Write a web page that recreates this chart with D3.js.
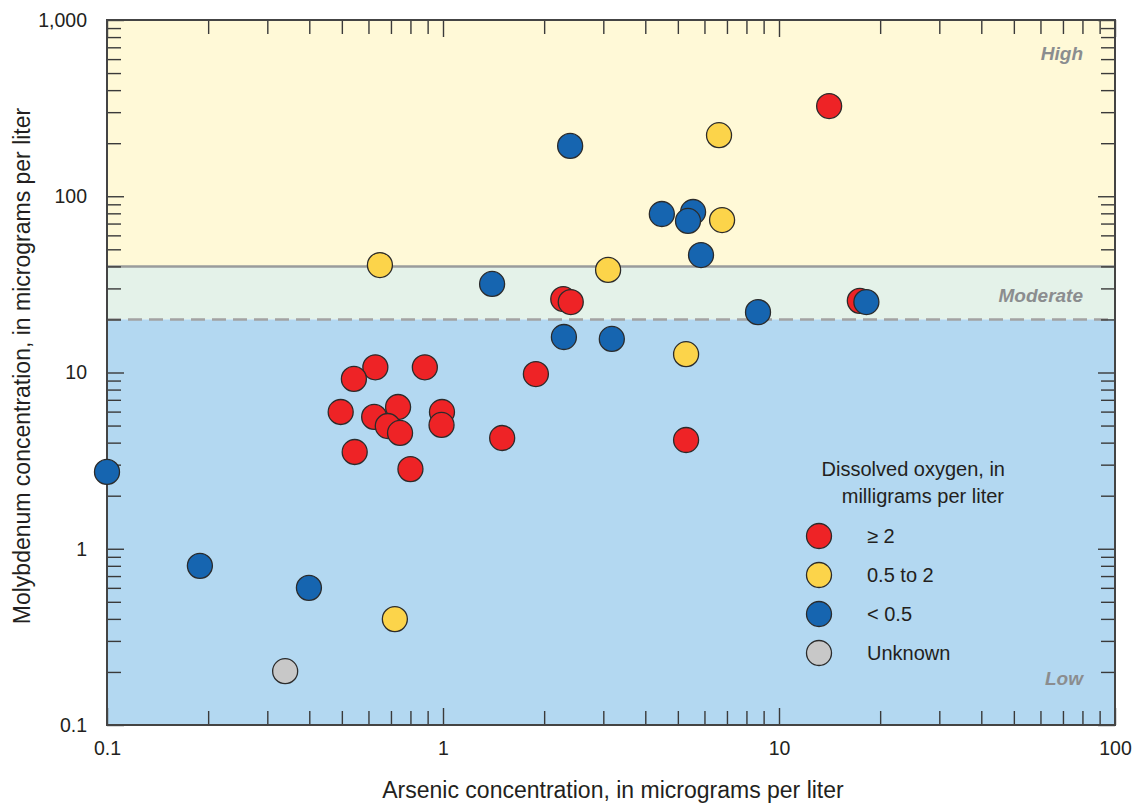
<!DOCTYPE html>
<html>
<head>
<meta charset="utf-8">
<script src="https://cdn.jsdelivr.net/npm/d3@7"></script>
<style>
  html, body { margin: 0; padding: 0; background: #fff; }
  svg { display: block; }
  text { font-family: "Liberation Sans Narrow", "Arial Narrow", "Liberation Sans", sans-serif; fill: #231f20; }
</style>
</head>
<body>
<svg id="chart" width="1138" height="805"></svg>
<script>
// Arsenic (x) and molybdenum (y) concentrations, micrograms per liter
const oxicAs   = [14.1, 17.4, 2.28, 2.40, 1.89, 1.50, 5.29, 0.629, 0.543, 0.883, 0.496, 0.624, 0.735, 0.685, 0.745, 0.993, 0.99, 0.546, 0.80];
const oxicMo   = [325, 25.5, 26.1, 25.1, 9.8, 4.25, 4.14, 10.7, 9.2, 10.7, 5.97, 5.6, 6.37, 4.97, 4.54, 5.97, 5.04, 3.54, 2.83];
const mixedAs  = [6.63, 6.77, 3.10, 0.649, 5.29, 0.719];
const mixedMo  = [222, 73.3, 38.2, 40.7, 12.7, 0.399];
const anoxicAs = [2.39, 4.48, 5.55, 5.36, 5.86, 1.40, 8.66, 18.2, 2.29, 3.18, 0.1, 0.189, 0.399];
const anoxicMo = [193, 79.3, 81.4, 72.4, 46.4, 31.8, 22.0, 25.1, 15.9, 15.5, 2.73, 0.80, 0.60];
const unknownAs = [0.339];
const unknownMo = [0.202];

// Dissolved-oxygen groups
const groupLabels = ["\u2265 2", "0.5 to 2", "< 0.5", "Unknown"];
const groupColors = ["#ee2326", "#fcd44a", "#1665b0", "#c8c8c8"];

// Concern zones for molybdenum
const zoneNames  = ["High", "Moderate", "Low"];
const zoneBounds = [[40, 1000], [20, 40], [0.1, 20]];
const zoneFills  = ["#fff9d7", "#e4f2e9", "#b3d8f1"];

const xTicks = [0.1, 1, 10, 100];
const yTicks = [0.1, 1, 10, 100, 1000];

const svg = d3.select("#chart");
const pLeft = 107, pRight = 1115, pTop = 20, pBottom = 725;

const x = d3.scaleLog().domain([0.1, 100]).range([pLeft, pRight]);
const y = d3.scaleLog().domain([0.1, 1000]).range([pBottom, pTop]);

// Background zones
svg.append("g").selectAll("rect").data(zoneBounds).join("rect")
  .attr("x", pLeft).attr("width", pRight - pLeft)
  .attr("y", d => y(d[1])).attr("height", d => y(d[0]) - y(d[1]))
  .attr("fill", (d, i) => zoneFills[i]);

// Zone boundaries
svg.append("line")
  .attr("x1", pLeft).attr("x2", pRight).attr("y1", y(40)).attr("y2", y(40))
  .attr("stroke", "#9a9c9c").attr("stroke-width", 2.5);
svg.append("line")
  .attr("x1", pLeft).attr("x2", pRight).attr("y1", y(20)).attr("y2", y(20))
  .attr("stroke", "#a3a3a3").attr("stroke-width", 2.5).attr("stroke-dasharray", "14,7");

// Zone names
const zoneLabelY = [y(1000) + 40, y(40) + 36, y(0.1) - 40];
svg.append("g").selectAll("text").data(zoneNames).join("text")
  .attr("x", 1083).attr("y", (d, i) => zoneLabelY[i])
  .attr("text-anchor", "end")
  .style("font-size", "19px").style("font-weight", "bold").style("font-style", "italic")
  .style("fill", "#8b8d8f")
  .text(d => d);

// Minor tick values (2..9 per decade)
function minorTicks(scale) {
  const [a, b] = scale.domain();
  const out = [];
  for (let e = Math.round(Math.log10(a)); e < Math.round(Math.log10(b)); e++) {
    for (let m = 2; m <= 9; m++) out.push(m * Math.pow(10, e));
  }
  return out;
}
const fmt = d => d >= 1000 ? d3.format(",")(d) : String(d);

const tickColor = "#3a3a3a";
// Inside ticks on all four sides
function drawTicks(axisFn, scale, major, minor, transform) {
  svg.append("g").attr("transform", transform)
    .call(axisFn(scale).tickValues(minor).tickSize(-14).tickFormat(""))
    .call(g => g.select(".domain").remove())
    .call(g => g.selectAll("line").attr("stroke", tickColor).attr("stroke-width", 1.4));
  svg.append("g").attr("transform", transform)
    .call(axisFn(scale).tickValues(major).tickSize(-17).tickFormat(""))
    .call(g => g.select(".domain").remove())
    .call(g => g.selectAll("line").attr("stroke", tickColor).attr("stroke-width", 1.4));
}
drawTicks(d3.axisBottom, x, xTicks, minorTicks(x), `translate(0,${pBottom})`);
drawTicks(d3.axisTop, x, xTicks, minorTicks(x), `translate(0,${pTop})`);
drawTicks(d3.axisLeft, y, yTicks, minorTicks(y), `translate(${pLeft},0)`);
drawTicks(d3.axisRight, y, yTicks, minorTicks(y), `translate(${pRight},0)`);

// Tick labels
svg.append("g").attr("transform", `translate(0,${pBottom})`)
  .call(d3.axisBottom(x).tickValues(xTicks).tickSize(0).tickPadding(16).tickFormat(fmt))
  .call(g => g.select(".domain").remove())
  .call(g => g.selectAll("text").style("font-size", "19.5px").style("fill", "#231f20"));
svg.append("g").attr("transform", `translate(${pLeft},0)`)
  .call(d3.axisLeft(y).tickValues(yTicks).tickSize(0).tickPadding(20).tickFormat(fmt))
  .call(g => g.select(".domain").remove())
  .call(g => g.selectAll("text").style("font-size", "19.5px").style("fill", "#231f20"));

// Frame
svg.append("rect")
  .attr("x", pLeft).attr("y", pTop).attr("width", pRight - pLeft).attr("height", pBottom - pTop)
  .attr("fill", "none").attr("stroke", "#444").attr("stroke-width", 2);

// Points
const groups = [
  { as: oxicAs, mo: oxicMo, g: 0 },
  { as: mixedAs, mo: mixedMo, g: 1 },
  { as: anoxicAs, mo: anoxicMo, g: 2 },
  { as: unknownAs, mo: unknownMo, g: 3 }
];
const pts = [];
groups.forEach(s => s.as.forEach((v, i) => pts.push({ as: v, mo: s.mo[i], g: s.g })));
svg.append("g").selectAll("circle").data(pts).join("circle")
  .attr("cx", d => x(d.as)).attr("cy", d => y(d.mo)).attr("r", 12.5)
  .attr("fill", d => groupColors[d.g])
  .attr("stroke", "#2b2b2b").attr("stroke-width", 1.3);

// Legend
const legend = svg.append("g");
legend.append("text").attr("x", 1005).attr("y", 476).attr("text-anchor", "end")
  .style("font-size", "20px").text("Dissolved oxygen, in");
legend.append("text").attr("x", 1004).attr("y", 503).attr("text-anchor", "end")
  .style("font-size", "20px").text("milligrams per liter");
const legendY = d3.scalePoint().domain(groupLabels).range([536, 653]);
legend.selectAll("circle").data(groupLabels).join("circle")
  .attr("cx", 819).attr("cy", d => legendY(d)).attr("r", 12.5)
  .attr("fill", (d, i) => groupColors[i])
  .attr("stroke", "#2b2b2b").attr("stroke-width", 1.3);
legend.selectAll("text.item").data(groupLabels).join("text")
  .attr("class", "item")
  .attr("x", 867).attr("y", d => legendY(d) + 7)
  .style("font-size", "20px").text(d => d);

// Axis titles
svg.append("text").attr("x", 613).attr("y", 798).attr("text-anchor", "middle")
  .style("font-size", "23px").text("Arsenic concentration, in micrograms per liter");
svg.append("text")
  .attr("transform", `translate(30,366) rotate(-90)`)
  .attr("text-anchor", "middle")
  .style("font-size", "23px").text("Molybdenum concentration, in micrograms per liter");
</script>
</body>
</html>
